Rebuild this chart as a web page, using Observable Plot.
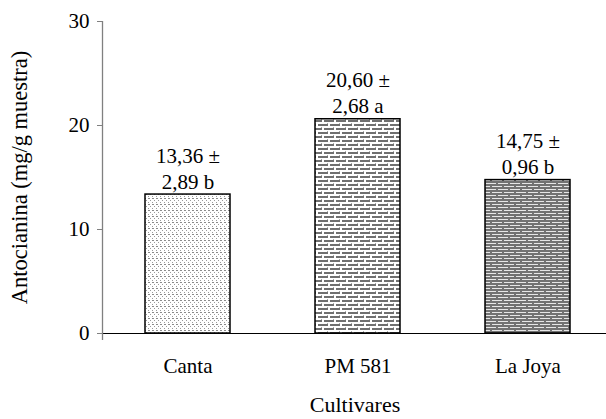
<!DOCTYPE html>
<html><head><meta charset="utf-8">
<script src="https://cdn.jsdelivr.net/npm/d3@7"></script>
<script src="https://cdn.jsdelivr.net/npm/@observablehq/plot@0.6"></script>
<style>body{margin:0;background:#fff}</style>
</head><body><div id="chart"></div>
<script>
const cultivares = ["Canta", "PM 581", "La Joya"];
const medias = [13.36, 20.60, 14.75];
const desviaciones = [2.89, 2.68, 0.96];
const letras = ["b", "a", "b"];
const yTicks = [0, 10, 20, 30];

const fmt = v => v.toFixed(2).replace(".", ",");
const data = cultivares.map((c, i) => ({cultivar: c, media: medias[i], de: desviaciones[i], letra: letras[i]}));
const patternIds = ["pat-canta", "pat-pm", "pat-joya"];
const serif = "'Liberation Serif', 'Times New Roman', serif";

const chart = Plot.plot({
  width: 606, height: 419,
  marginLeft: 103, marginRight: 0, marginTop: 21, marginBottom: 86,
  style: {fontFamily: serif, fontSize: "21px", color: "#000", background: "#fff"},
  x: {domain: cultivares, paddingInner: 0.5, paddingOuter: 0.229, align: 0.538},
  y: {domain: [0, 30], ticks: yTicks},
  color: {domain: cultivares, range: patternIds.map(id => `url(#${id})`)},
  marks: [
    Plot.barY(data, {x: "cultivar", y: "media", fill: "cultivar", stroke: "#000", strokeWidth: 1.5}),
    Plot.ruleY([0], {stroke: "#000", strokeWidth: 1.2}),
    Plot.text(data, {x: "cultivar", y: "media", text: d => `${fmt(d.media)} ±\n${fmt(d.de)} ${d.letra}`,
      lineAnchor: "bottom", dy: -6, lineHeight: 1.24, fontSize: 21, fill: "#000", fontFamily: serif}),
    Plot.axisY({ticks: yTicks, tickSize: 6, tickPadding: 8, stroke: "#808080", fill: "#000",
      label: "Antocianina (mg/g muestra)", labelAnchor: "center", labelArrow: "none", labelOffset: 92}),
    Plot.axisX({tickSize: 0, tickPadding: 25, fill: "#000",
      label: "Cultivares", labelAnchor: "center", labelArrow: "none", labelOffset: 78})
  ]
});

const svg = d3.select(chart);
// slightly larger axis titles, as in the original
svg.selectAll('[aria-label="y-axis label"] text, g[aria-label="y-axis label"]').style("font-size", "22.5px");
svg.selectAll('[aria-label="x-axis label"] text, g[aria-label="x-axis label"]').style("font-size", "22px");

// patterns
const defs = svg.insert("defs", ":first-child");
// Canta: light stipple
let p = defs.append("pattern").attr("id", patternIds[0]).attr("patternUnits", "userSpaceOnUse").attr("width", 4).attr("height", 6);
p.append("rect").attr("width", 4).attr("height", 6).attr("fill", "#fff");
p.append("rect").attr("x", 0).attr("y", 0).attr("width", 2).attr("height", 1).attr("fill", "#8a8a8a");
p.append("rect").attr("x", 2).attr("y", 2).attr("width", 1).attr("height", 1).attr("fill", "#9a9a9a");
p.append("rect").attr("x", 0).attr("y", 4).attr("width", 1).attr("height", 1).attr("fill", "#9a9a9a");
// PM 581: brick dashes
p = defs.append("pattern").attr("id", patternIds[1]).attr("patternUnits", "userSpaceOnUse").attr("width", 12).attr("height", 8);
p.append("rect").attr("width", 12).attr("height", 8).attr("fill", "#fff");
p.append("rect").attr("x", 0).attr("y", 0).attr("width", 10).attr("height", 2).attr("fill", "#707070");
p.append("rect").attr("x", 6).attr("y", 4).attr("width", 6).attr("height", 2).attr("fill", "#707070");
p.append("rect").attr("x", 0).attr("y", 4).attr("width", 4).attr("height", 2).attr("fill", "#707070");
p.append("rect").attr("x", 3).attr("y", 3).attr("width", 1).attr("height", 1).attr("fill", "#aaa");
p.append("rect").attr("x", 9).attr("y", 7).attr("width", 1).attr("height", 1).attr("fill", "#aaa");
// La Joya: dark with light dashes
p = defs.append("pattern").attr("id", patternIds[2]).attr("patternUnits", "userSpaceOnUse").attr("width", 12).attr("height", 6);
p.append("rect").attr("width", 12).attr("height", 6).attr("fill", "#727272");
p.append("rect").attr("x", 0).attr("y", 0).attr("width", 10).attr("height", 1).attr("fill", "#e6e6e6");
p.append("rect").attr("x", 6).attr("y", 3).attr("width", 6).attr("height", 1).attr("fill", "#e6e6e6");
p.append("rect").attr("x", 0).attr("y", 3).attr("width", 4).attr("height", 1).attr("fill", "#e6e6e6");

// y axis line (gray), extending slightly below zero as in the original
const ys = chart.scale("y");
svg.append("line")
  .attr("x1", 102.5).attr("x2", 102.5)
  .attr("y1", ys.apply(30)).attr("y2", ys.apply(0) + 7)
  .attr("stroke", "#808080").attr("stroke-width", 1.3);

document.getElementById("chart").append(chart);
</script>
</body></html>
